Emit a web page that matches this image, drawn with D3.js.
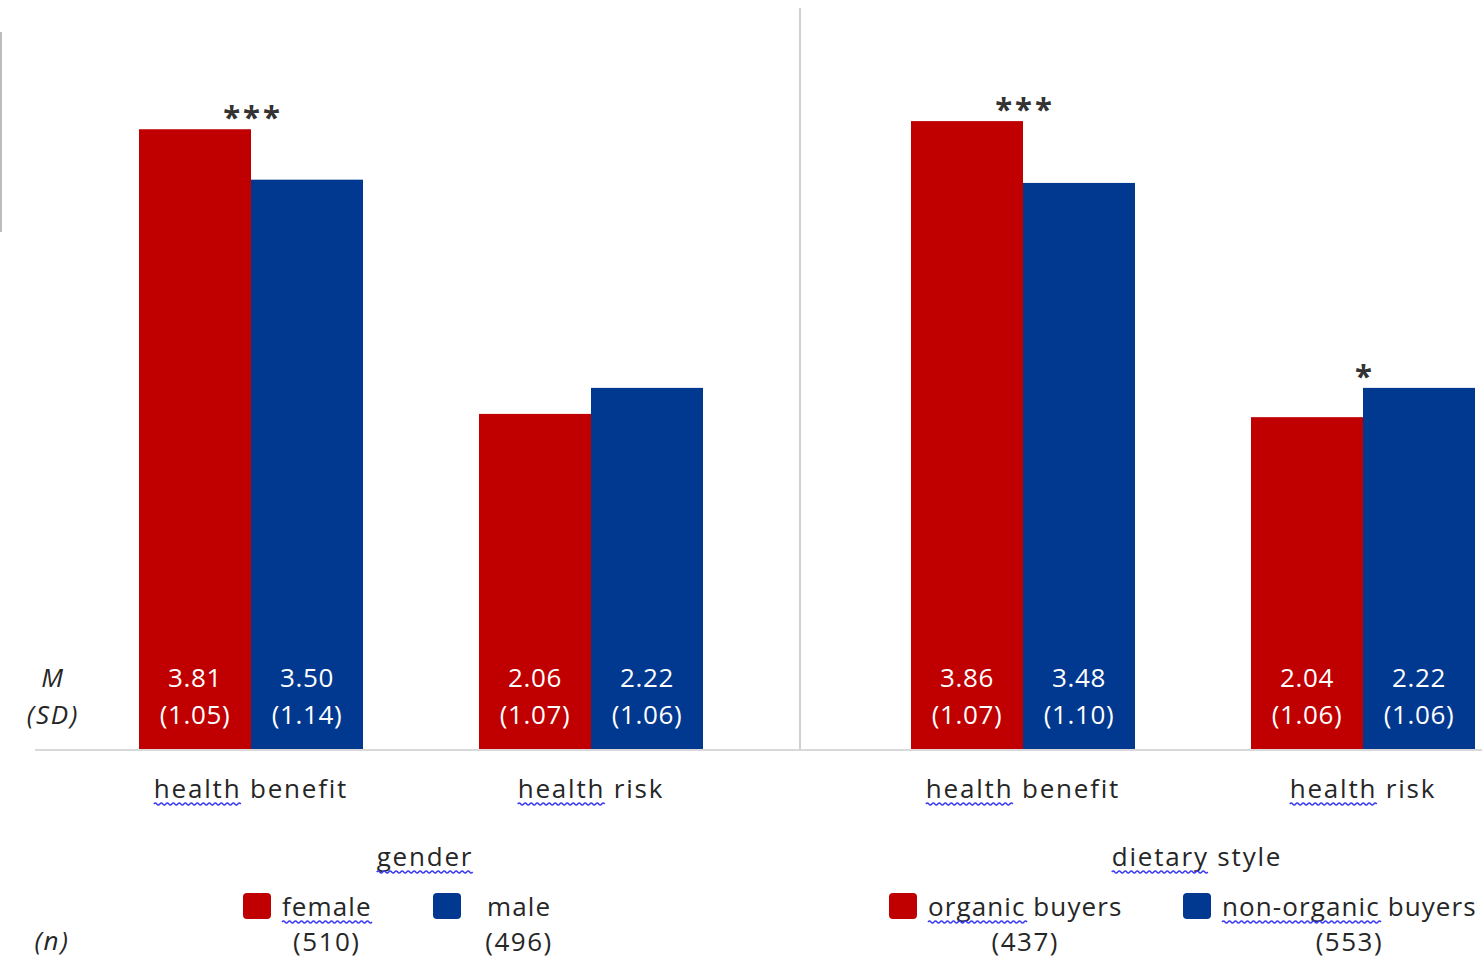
<!DOCTYPE html>
<html>
<head>
<meta charset="utf-8">
<script src="https://cdn.jsdelivr.net/npm/d3@7"></script>
<style>
body { margin: 0; background: #fff; }
text { font-family: "Open Sans", sans-serif; fill: #262626; }
</style>
</head>
<body>
<svg width="1482" height="961"></svg>
<script>
// data
var panels = ["gender", "dietary style"];
var groups = ["health benefit", "health risk"];
var seriesNames = [["female", "male"], ["organic buyers", "non-organic buyers"]];
var sampleSizes = [[510, 496], [437, 553]];
var means = [[[3.81, 3.50], [2.06, 2.22]], [[3.86, 3.48], [2.04, 2.22]]];
var sds = [[[1.05, 1.14], [1.07, 1.06]], [[1.07, 1.10], [1.06, 1.06]]];
var stars = [["***", ""], ["***", "*"]];
var colors = ["#c00000", "#00398f"];

// words that got the spell-check squiggle
var squiggled = ["health", "gender", "female", "dietary", "organic", "non-organic"];

var svg = d3.select("svg");
var baseY = 749;
var fs = 26;
var wordSpacing = 1.8;

var y = d3.scaleLinear().domain([0, 4.5]).range([baseY, 17]);
var panelX = d3.scaleBand().domain(panels).range([81, 1625]);
var groupX = d3.scaleBand().domain(groups).range([0, 680]);
var barX = d3.scaleBand().domain([0, 1]).range([58, 282]);

// legend offsets inside each panel
var legendX = [[162, 352], [36, 330]];

// grey lines
svg.append("line").attr("x1", 1).attr("x2", 1).attr("y1", 32).attr("y2", 232)
    .attr("stroke", "#bdbdbd").attr("stroke-width", 2);
svg.append("line").attr("x1", 800).attr("x2", 800).attr("y1", 8).attr("y2", baseY + 1)
    .attr("stroke", "#d0d0d0").attr("stroke-width", 2);
svg.append("line").attr("x1", 35).attr("x2", 1482).attr("y1", baseY + 1).attr("y2", baseY + 1)
    .attr("stroke", "#d9d9d9").attr("stroke-width", 2);

function wave(x0, x1, yy) {
    var p = 6, a = 2, s = "M" + x0 + "," + yy, up = true;
    for (var x = x0; x < x1; x += p / 2) {
        s += "Q" + (x + p / 4) + "," + (yy + (up ? -a : a)) + " " + (x + p / 2) + "," + yy;
        up = !up;
    }
    return s;
}

// draws a squiggle under any flagged word of a text element
function squiggle(sel) {
    var node = sel.node(), str = sel.text(), pos = 0;
    var parent = d3.select(node.parentNode);
    var ls = +sel.attr("letter-spacing") || 0;
    str.split(" ").forEach(function(w) {
        if (squiggled.indexOf(w) >= 0) {
            var x0 = node.getStartPositionOfChar(pos).x;
            var len = node.getSubStringLength(pos, w.length) - ls;
            parent.append("path").attr("d", wave(x0, x0 + len, +sel.attr("y") + 6))
                .attr("fill", "none").attr("stroke", "#3b3bf0").attr("stroke-width", 1.4);
        }
        pos += w.length + 1;
    });
}

function label(parent, x, yy, str, anchor) {
    return parent.append("text")
        .attr("x", x).attr("y", yy)
        .attr("text-anchor", anchor || "middle")
        .attr("font-size", fs)
        .attr("letter-spacing", wordSpacing)
        .text(str);
}

panels.forEach(function(p, pi) {
    var g = svg.append("g").attr("transform", "translate(" + panelX(p) + ",0)");

    groups.forEach(function(grp, gi) {
        var gg = g.append("g").attr("transform", "translate(" + groupX(grp) + ",0)");
        var vals = means[pi][gi];

        gg.selectAll("rect").data(vals).enter().append("rect")
            .attr("x", function(d, i) { return barX(i); })
            .attr("width", barX.bandwidth())
            .attr("y", function(d) { return y(d); })
            .attr("height", function(d) { return baseY - y(d); })
            .attr("fill", function(d, i) { return colors[i]; });

        gg.selectAll("text.m").data(vals).enter().append("text").attr("class", "m")
            .attr("x", function(d, i) { return barX(i) + barX.bandwidth() / 2; })
            .attr("y", 687).attr("text-anchor", "middle").attr("font-size", fs)
            .attr("letter-spacing", 0.6)
            .style("fill", "#fff")
            .text(function(d) { return d.toFixed(2); });

        gg.selectAll("text.sd").data(sds[pi][gi]).enter().append("text").attr("class", "sd")
            .attr("x", function(d, i) { return barX(i) + barX.bandwidth() / 2; })
            .attr("y", 724).attr("text-anchor", "middle").attr("font-size", fs)
            .attr("letter-spacing", 0.6)
            .style("fill", "#fff")
            .text(function(d) { return "(" + d.toFixed(2) + ")"; });

        if (stars[pi][gi]) {
            gg.append("text")
                .attr("x", barX(1) + 2)
                .attr("y", y(d3.max(vals)) - 1)
                .attr("text-anchor", "middle").attr("font-size", 31)
                .attr("font-weight", "bold")
                .attr("letter-spacing", 3)
                .style("fill", "#333")
                .text(stars[pi][gi]);
        }

        squiggle(label(g, groupX(grp) + barX(1), 798, grp));
    });

    squiggle(label(g, groupX.range()[1] / 2 + 4, 866, p));

    // legend
    seriesNames[pi].forEach(function(name, si) {
        var lx = panelX(p) + legendX[pi][si];
        svg.append("rect").attr("x", lx).attr("y", 893).attr("width", 28).attr("height", 26)
            .attr("rx", 4).attr("fill", colors[si]);
        var tx = label(svg, lx + (pi === 0 && si === 1 ? 54 : 39), 916, name, "start")
            .attr("letter-spacing", 1.1);
        squiggle(tx);
        var w = tx.node().getComputedTextLength();
        label(svg, +tx.attr("x") + w / 2, 951, "(" + sampleSizes[pi][si] + ")")
            .attr("letter-spacing", 1.5);
    });
});

// row labels
label(svg, 53, 687, "M").attr("font-style", "italic");
label(svg, 53, 724, "(SD)").attr("font-style", "italic");
label(svg, 52, 950, "(n)").attr("font-style", "italic");
</script>
</body>
</html>
